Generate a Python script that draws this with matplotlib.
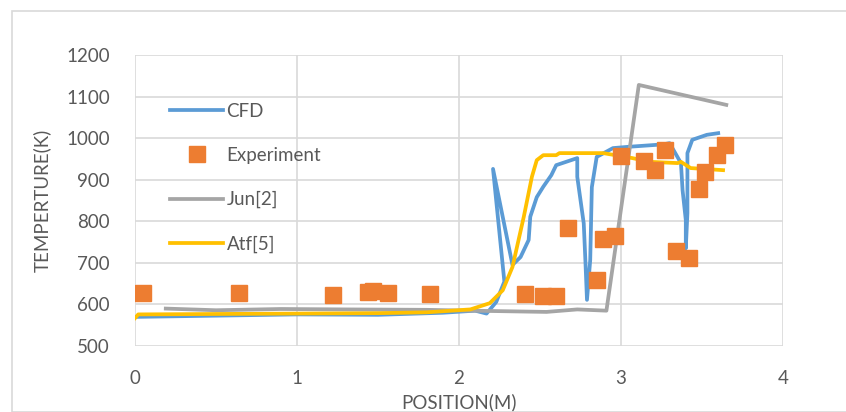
import numpy as np
import matplotlib
matplotlib.use('Agg')
import matplotlib.pyplot as plt
from matplotlib.patches import Rectangle

# données
cfd_x = [0.0, 0.5, 1.0, 1.5, 1.9, 2.1, 2.17, 2.23, 2.28, 2.21, 2.33, 2.38, 2.43, 2.44, 2.48, 2.52,
         2.57, 2.60, 2.73, 2.73, 2.77, 2.78, 2.79, 2.81, 2.82, 2.85, 2.87, 2.95, 3.04, 3.26, 3.30,
         3.37, 3.38, 3.40, 3.40, 3.41, 3.41, 3.44, 3.53, 3.60]
cfd_y = [570, 573, 576, 575, 580, 585, 578, 606, 655, 926, 695, 714, 755, 811, 858, 883,
         911, 935, 952, 907, 795, 707, 611, 707, 882, 955, 959, 976, 979, 985, 988,
         940, 875, 803, 735, 820, 964, 996, 1008, 1012]

exp_x = [0.05, 0.64, 1.22, 1.44, 1.47, 1.56, 1.82, 2.41, 2.52, 2.60, 2.67, 2.85, 2.89, 2.96,
         3.00, 3.14, 3.21, 3.27, 3.34, 3.42, 3.48, 3.52, 3.59, 3.64]
exp_y = [628, 628, 622, 629, 632, 628, 626, 626, 621, 621, 784, 659, 757, 764,
         957, 945, 924, 971, 729, 711, 877, 918, 959, 983]

jun_x = [0.19, 0.5, 0.9, 1.3, 1.8, 2.07, 2.54, 2.73, 2.91, 3.11, 3.65]
jun_y = [590, 586, 589, 588, 587, 585, 582, 588, 585, 1128, 1080]

atf_x = [0.0, 0.02, 0.5, 1.0, 1.5, 1.8, 2.07, 2.19, 2.27, 2.33, 2.40, 2.45, 2.48, 2.52,
         2.60, 2.62, 2.89, 3.07, 3.18, 3.35, 3.37, 3.43, 3.63]
atf_y = [567, 576, 577, 578, 579, 581, 588, 603, 634, 690, 811, 907, 947, 959,
         959, 964, 964, 952, 943, 940, 943, 928, 923]

plt.rcParams['font.family'] = ['Lato', 'DejaVu Sans']
gris_texte = '#595959'
gris_grille = '#D9D9D9'

fig = plt.figure(figsize=(8.46, 4.12), dpi=100)
# cadre de la zone graphique (style Excel)
fig.patches.append(Rectangle((12/846, 0), 1, (412-11)/412, transform=fig.transFigure,
                             fill=False, edgecolor=gris_grille, lw=1.2))

ax = fig.add_axes([135/846, 66/412, 648/846, 291/412])
ax.plot(cfd_x, cfd_y, color='#5B9BD5', lw=2.7, label='CFD', zorder=3, solid_joinstyle='round')
ax.plot(exp_x, exp_y, ls='none', marker='s', ms=12, color='#ED7D31', label='Experiment', zorder=6)
ax.plot(jun_x, jun_y, color='#A5A5A5', lw=2.7, label='Jun[2]', zorder=4)
ax.plot(atf_x, atf_y, color='#FFC000', lw=2.7, label='Atf[5]', zorder=5)

ax.set_xlim(0, 4)
ax.set_ylim(500, 1200)
ax.set_xticks(range(0, 5))
ax.set_yticks(range(500, 1201, 100))
ax.grid(True, color=gris_grille, lw=1.2)
ax.set_axisbelow(True)
for s in ax.spines.values():
    s.set_visible(False)
ax.tick_params(length=0, labelsize=13.5, colors=gris_texte)
ax.tick_params(axis='y', pad=18)
ax.tick_params(axis='x', pad=17)
ax.set_xlabel('POSITION(M)', fontsize=13.5, color=gris_texte, labelpad=5)
ax.set_ylabel('TEMPERTURE(K)', fontsize=13.5, color=gris_texte, labelpad=11)

leg = ax.legend(loc='upper left', bbox_to_anchor=(0.043, 0.862), frameon=False,
                fontsize=13.5, handlelength=2.8, handletextpad=0.2, labelspacing=1.45,
                borderaxespad=0)
for t in leg.get_texts():
    t.set_color(gris_texte)

fig.savefig('out.png', dpi=100)
